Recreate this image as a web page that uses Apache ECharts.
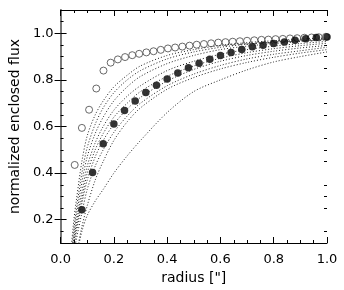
<!DOCTYPE html>
<html><head><meta charset="utf-8">
<script src="https://cdn.jsdelivr.net/npm/echarts@6/dist/echarts.min.js"></script>
<style>html,body{margin:0;padding:0;background:#fff}#c{width:344px;height:290px}</style>
</head><body><div id="c"></div>
<script>
// dotted model curves, sampled at dotX
var dotX = [0.04,0.05,0.06,0.08,0.10,0.13,0.16,0.20,0.25,0.30,0.40,0.50,0.60,0.70,0.80,0.90,1.00];
var d1 = [0.08,0.20,0.29,0.45,0.56,0.65,0.71,0.77,0.82,0.86,0.905,0.93,0.948,0.96,0.968,0.975,0.98];
var d2 = [0.05,0.16,0.25,0.40,0.51,0.61,0.68,0.745,0.80,0.84,0.89,0.92,0.94,0.953,0.962,0.970,0.976];
var d3 = [0.03,0.13,0.22,0.36,0.47,0.57,0.64,0.71,0.77,0.815,0.87,0.905,0.93,0.945,0.956,0.965,0.972];
var d4 = [0.02,0.11,0.19,0.32,0.43,0.53,0.60,0.67,0.73,0.775,0.84,0.88,0.91,0.93,0.945,0.956,0.965];
var d5 = [0.01,0.10,0.17,0.29,0.40,0.50,0.57,0.64,0.70,0.75,0.815,0.86,0.893,0.917,0.934,0.947,0.957];
var d6 = [0.00,0.08,0.15,0.27,0.37,0.47,0.54,0.61,0.675,0.725,0.795,0.845,0.88,0.905,0.923,0.937,0.948];
var d7 = [0.00,0.06,0.12,0.23,0.33,0.43,0.50,0.575,0.645,0.70,0.775,0.825,0.862,0.89,0.91,0.925,0.94];
var d8 = [0.00,0.03,0.06,0.17,0.26,0.37,0.45,0.54,0.62,0.68,0.76,0.81,0.847,0.875,0.897,0.915,0.93];
var d9 = [0.00,0.02,0.05,0.15,0.218,0.28,0.33,0.40,0.474,0.54,0.66,0.75,0.80,0.843,0.877,0.90,0.92];
var dottedCurves = [d1,d2,d3,d4,d5,d6,d7,d8,d9];

// open circles
var openX = [0.053,0.080,0.107,0.134,0.161,0.188,0.215,0.242,0.269,0.295,0.322,0.349,0.376,0.403,0.430,0.457,0.484,0.511,0.538,0.565,0.592,0.619,0.646,0.673,0.700,0.727,0.754,0.780,0.807,0.834,0.861,0.888,0.915,0.942,0.969,0.996];
var openY = [0.435,0.594,0.672,0.763,0.840,0.874,0.888,0.898,0.906,0.912,0.918,0.923,0.929,0.935,0.939,0.943,0.947,0.951,0.954,0.957,0.960,0.962,0.964,0.966,0.968,0.970,0.972,0.973,0.975,0.976,0.978,0.979,0.981,0.982,0.983,0.985];

// filled circles
var fillX = [0.08,0.12,0.16,0.20,0.24,0.28,0.32,0.36,0.40,0.44,0.48,0.52,0.56,0.60,0.64,0.68,0.72,0.76,0.80,0.84,0.88,0.92,0.96,1.00];
var fillY = [0.243,0.403,0.526,0.611,0.669,0.709,0.746,0.777,0.804,0.830,0.852,0.871,0.889,0.905,0.918,0.931,0.942,0.949,0.956,0.963,0.970,0.977,0.982,0.984];

var yMajor = [0.2,0.4,0.6,0.8,1.0];
var yMinor = [0.15,0.25,0.3,0.35,0.45,0.5,0.55,0.65,0.7,0.75,0.85,0.9,0.95,1.05];

function zip(a,b){return a.map(function(v,i){return [v,b[i]];});}
var FONT = 'DejaVu Sans';
var series = [];
dottedCurves.forEach(function(c){
  series.push({type:'line', data: zip(dotX,c), smooth:0.3, showSymbol:false, symbol:'none',
    lineStyle:{color:'#222', width:1, type:[1,2]}, clip:true, silent:true});
});
series.push({type:'scatter', data: zip(openX,openY), symbol:'circle', symbolSize:7,
  itemStyle:{color:'#fff', borderColor:'#444', borderWidth:1}});
series.push({type:'scatter', data: zip(fillX,fillY), symbol:'circle', symbolSize:7.5,
  itemStyle:{color:'#000'}});

var axLine = {show:true, lineStyle:{color:'#000', width:1}};
var chart = echarts.init(document.getElementById('c'), null, {renderer:'canvas'});
chart.setOption({
  animation:false,
  grid:{left:58, right:17, top:10, bottom:47, containLabel:false},
  xAxis:[
    {type:'value', min:0, max:1, interval:0.2, position:'bottom',
     axisLine:axLine, splitLine:{show:false},
     axisTick:{inside:true, length:6, lineStyle:{color:'#000'}},
     minorTick:{show:true, splitNumber:4, length:3, lineStyle:{color:'#000'}},
     axisLabel:{color:'#000', fontFamily:FONT, fontSize:13, margin:10, formatter:function(v){return v.toFixed(1);}},
     name:'radius ["]', nameLocation:'middle', nameGap:28,
     nameTextStyle:{color:'#000', fontFamily:FONT, fontSize:14}},
    {type:'value', min:0, max:1, interval:0.2, position:'top',
     axisLine:axLine, splitLine:{show:false},
     axisTick:{inside:true, length:6, lineStyle:{color:'#000'}},
     minorTick:{show:true, splitNumber:4, length:3, lineStyle:{color:'#000'}},
     axisLabel:{show:false}}
  ],
  yAxis:[
    {type:'value', min:0.1, max:1.1, position:'left',
     axisLine:axLine, splitLine:{show:false},
     axisTick:{inside:true, length:6, customValues:yMajor, lineStyle:{color:'#000'}},
     axisLabel:{color:'#000', fontFamily:FONT, fontSize:13, margin:7, customValues:yMajor, formatter:function(v){return v.toFixed(1);}},
     name:'normalized enclosed flux', nameLocation:'middle', nameGap:33,
     nameTextStyle:{color:'#000', fontFamily:FONT, fontSize:14}},
    {type:'value', min:0.1, max:1.1, position:'right',
     axisLine:{show:true, lineStyle:{color:'#777', width:2}}, splitLine:{show:false},
     axisTick:{inside:true, length:6, customValues:yMajor, lineStyle:{color:'#000'}},
     axisLabel:{show:false}},
    {type:'value', min:0.1, max:1.1, position:'left',
     axisLine:{show:false}, splitLine:{show:false},
     axisTick:{inside:true, length:3, customValues:yMinor, lineStyle:{color:'#000'}},
     axisLabel:{show:false}},
    {type:'value', min:0.1, max:1.1, position:'right',
     axisLine:{show:false}, splitLine:{show:false},
     axisTick:{inside:true, length:3, customValues:yMinor, lineStyle:{color:'#000'}},
     axisLabel:{show:false}}
  ],
  series: series
});
</script>
</body></html>
